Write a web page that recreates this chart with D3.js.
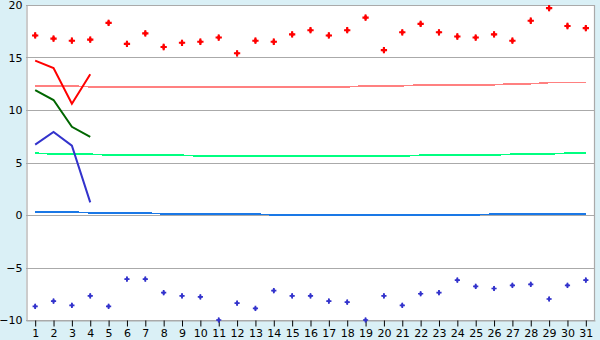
<!DOCTYPE html>
<html lang="en">
<head>
  <meta charset="UTF-8">
  <title>Daily temperatures</title>
  <script src="https://d3js.org/d3.v7.min.js"></script>
  <style>
    body { margin: 0; background: #daf0f6; }
    #chart { display: block; }
    .axis text { font-family: "DejaVu Sans", Verdana, sans-serif; font-size: 11px; fill: #000; }
  </style>
</head>
<body>
<svg id="chart" width="600" height="340"></svg>
<script>
// Data
const days = d3.range(1, 32);
const maxPoints = [17.1, 16.8, 16.6, 16.7, 18.3, 16.3, 17.3, 16.0, 16.4, 16.5, 16.9, 15.4, 16.6, 16.5, 17.2, 17.6,
                   17.1, 17.6, 18.8, 15.7, 17.4, 18.2, 17.4, 17.0, 16.9, 17.2, 16.6, 18.5, 19.7, 18.0, 17.8];
const minPoints = [-8.7, -8.2, -8.6, -7.7, -8.7, -6.1, -6.1, -7.4, -7.7, -7.8, -10.0, -8.4, -8.9, -7.2, -7.7, -7.7,
                   -8.2, -8.3, -10.0, -7.7, -8.6, -7.5, -7.4, -6.2, -6.8, -7.0, -6.7, -6.6, -8.0, -6.7, -6.2];
const normalMax = [12.3, 12.3, 12.3, 12.2, 12.2, 12.2, 12.2, 12.2, 12.2, 12.2, 12.2, 12.2, 12.2, 12.2, 12.2, 12.2,
                   12.2, 12.2, 12.3, 12.3, 12.3, 12.4, 12.4, 12.4, 12.4, 12.4, 12.5, 12.5, 12.6, 12.6, 12.6];
const normalMean = [5.9, 5.8, 5.8, 5.8, 5.7, 5.7, 5.7, 5.7, 5.7, 5.6, 5.6, 5.6, 5.6, 5.6, 5.6, 5.6,
                    5.6, 5.6, 5.6, 5.6, 5.6, 5.7, 5.7, 5.7, 5.7, 5.7, 5.8, 5.8, 5.8, 5.9, 5.9];
const normalMin = [0.3, 0.3, 0.3, 0.2, 0.2, 0.2, 0.2, 0.1, 0.1, 0.1, 0.1, 0.1, 0.1, 0.0, 0.0, 0.0,
                   0.0, 0.0, 0.0, 0.0, 0.0, 0.0, 0.0, 0.0, 0.0, 0.1, 0.1, 0.1, 0.1, 0.1, 0.1];
const dailyMax = [14.7, 14.0, 10.6, 13.4];
const dailyMean = [11.9, 10.95, 8.4, 7.45];
const dailyMin = [6.7, 7.9, 6.6, 1.2];
const yTicks = [-10, -5, 0, 5, 10, 15, 20];

// Layout
const width = 600, height = 340;
const plot = { left: 26, right: 595, top: 5, bottom: 320 };

const svg = d3.select('#chart');

const x = d3.scalePoint()
  .domain(days)
  .range([plot.left, plot.right])
  .padding(0.5);
const y = d3.scaleLinear()
  .domain([-10, 20])
  .range([plot.bottom, plot.top]);

// Background
svg.append('rect')
  .attr('width', width).attr('height', height)
  .attr('fill', '#daf0f6');
svg.append('rect')
  .attr('x', plot.left).attr('y', plot.top)
  .attr('width', plot.right - plot.left).attr('height', plot.bottom - plot.top)
  .attr('fill', '#fff');

// Gridlines + right border
svg.append('g')
  .selectAll('line')
  .data(yTicks)
  .join('line')
    .attr('x1', plot.left).attr('x2', plot.right)
    .attr('y1', d => Math.round(y(d)) + 0.5).attr('y2', d => Math.round(y(d)) + 0.5)
    .attr('stroke', '#aaa').attr('stroke-width', 1.2);
svg.append('line')
  .attr('x1', plot.right - 0.5).attr('x2', plot.right - 0.5)
  .attr('y1', plot.top).attr('y2', plot.bottom + 1)
  .attr('stroke', '#aaa').attr('stroke-width', 1.2);

// Axes
const yAxis = d3.axisLeft(y).tickValues(yTicks).tickSize(0).tickPadding(4);
svg.append('g')
  .attr('class', 'axis')
  .attr('transform', `translate(${plot.left + 0.5},0)`)
  .call(yAxis)
  .call(g => g.select('.domain').attr('stroke', '#aaa').attr('stroke-width', 1.2));

const xAxis = d3.axisBottom(x).tickSize(6).tickSizeOuter(0).tickPadding(3);
svg.append('g')
  .attr('class', 'axis')
  .attr('transform', `translate(0,${plot.bottom + 0.5})`)
  .call(xAxis)
  .call(g => g.select('.domain').attr('stroke', '#aaa').attr('stroke-width', 1.2))
  .call(g => g.selectAll('.tick line').attr('stroke', '#000'));

// Lines
const line = d3.line()
  .x((d, i) => x(days[i]))
  .y(d => y(d));

const stepLines = [
  { values: normalMax, color: '#ff8080' },
  { values: normalMean, color: '#00ff80' },
  { values: normalMin, color: '#1a78e6' }
];
stepLines.forEach(s => {
  svg.append('path')
    .attr('d', line(s.values))
    .attr('fill', 'none')
    .attr('stroke', s.color)
    .attr('stroke-width', 1.5)
    .attr('shape-rendering', 'crispEdges');
});

const dailyLines = [
  { values: dailyMax, color: '#ff0000' },
  { values: dailyMean, color: '#006600' },
  { values: dailyMin, color: '#3333cc' }
];
dailyLines.forEach(s => {
  svg.append('path')
    .attr('d', line(s.values))
    .attr('fill', 'none')
    .attr('stroke', s.color)
    .attr('stroke-width', 2);
});

// Markers
function markers(values, color, size) {
  const g = svg.append('g');
  g.selectAll('path.cross')
    .data(values)
    .join('path')
      .attr('class', 'cross')
      .attr('transform', (d, i) => `translate(${x(days[i])},${y(d)})`)
      .attr('d', d3.symbol(d3.symbolCross, size))
      .attr('fill', color);
  g.selectAll('path.dia')
    .data(values)
    .join('path')
      .attr('class', 'dia')
      .attr('transform', (d, i) => `translate(${x(days[i])},${y(d)})`)
      .attr('d', d3.symbol(d3.symbolDiamond, size * 0.6))
      .attr('fill', color);
}
markers(maxPoints, '#ff0000', 22);
markers(minPoints, '#3333cc', 15);
</script>
</body>
</html>
